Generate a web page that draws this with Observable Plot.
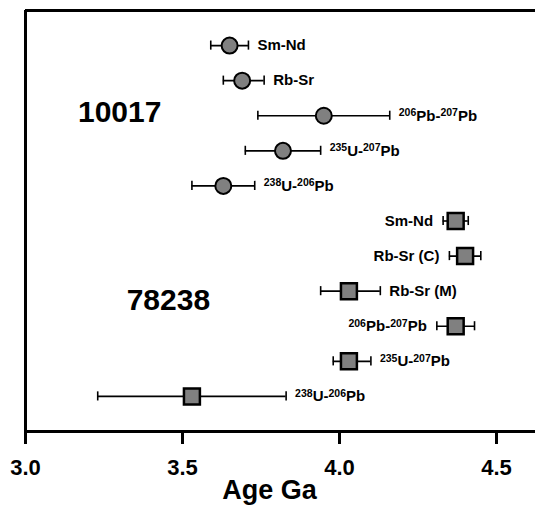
<!DOCTYPE html>
<html><head><meta charset="utf-8">
<script src="https://cdn.jsdelivr.net/npm/d3@7"></script>
<script src="https://cdn.jsdelivr.net/npm/@observablehq/plot@0.6"></script>
<style>body{margin:0;background:#fff}</style>
</head><body><div id="chart"></div>
<script>
// ---- data ----
const methods = ["Sm-Nd","Rb-Sr","206Pb-207Pb","235U-207Pb","238U-206Pb",
                 "Sm-Nd","Rb-Sr (C)","Rb-Sr (M)","206Pb-207Pb","235U-207Pb","238U-206Pb"];
const samples = ["10017","10017","10017","10017","10017",
                 "78238","78238","78238","78238","78238","78238"];
const ages  = [3.65, 3.69, 3.95, 3.82, 3.63, 4.37, 4.40, 4.03, 4.37, 4.03, 3.53];
const lows  = [3.59, 3.63, 3.74, 3.70, 3.53, 4.33, 4.35, 3.94, 4.31, 3.98, 3.23];
const highs = [3.71, 3.76, 4.16, 3.94, 3.73, 4.41, 4.45, 4.13, 4.43, 4.10, 3.83];
const groupNames = ["10017", "78238"];
const groupAges  = [3.30, 3.455];
const groupRows  = [2.91, 8.26];
const xTicks = [3.0, 3.5, 4.0, 4.5];
const axisTitle = "Age Ga";

const rows = methods.map((m, i) => ({method: m, sample: samples[i], age: ages[i], lo: lows[i], hi: highs[i], row: i + 1}));
const groups = groupNames.map((g, i) => ({name: g, age: groupAges[i], row: groupRows[i]}));
const labelsLeft = rows.filter(d => d.hi > 4.3);
const labelsRight = rows.filter(d => d.hi <= 4.3);
const capH = 0.13;
const W = 535, H = 514, mL = 25, mT = 10, mB = 83;
const xMax = 3 + (W - mL) / 314;

const font = "Arial, 'Liberation Sans', sans-serif";
const chart = Plot.plot({
  width: W, height: H,
  marginLeft: mL, marginRight: 0, marginTop: mT, marginBottom: mB,
  style: {fontFamily: font, fontWeight: "bold", color: "#000", background: "#fff"},
  x: {domain: [3, xMax], ticks: xTicks, tickFormat: d3.format(".1f")},
  y: {domain: [0, 12], reverse: true, axis: null},
  marks: [
    Plot.axisX({ticks: xTicks, tickFormat: d3.format(".1f"), tickSize: 13, tickPadding: 15,
      fontSize: 22, fontWeight: "bold", strokeWidth: 3, label: null, stroke: "#000", fill: "#000"}),
    Plot.ruleX([3], {stroke: "#000", strokeWidth: 3}),
    Plot.ruleY([0, 12], {stroke: "#000", strokeWidth: 3}),
    Plot.ruleY(rows, {y: "row", x1: "lo", x2: "hi", stroke: "#000", strokeWidth: 1.6}),
    Plot.ruleX(rows, {x: "lo", y1: d => d.row - capH, y2: d => d.row + capH, stroke: "#000", strokeWidth: 1.6}),
    Plot.ruleX(rows, {x: "hi", y1: d => d.row - capH, y2: d => d.row + capH, stroke: "#000", strokeWidth: 1.6}),
    Plot.dot(rows.filter(d => d.sample === "10017"), {x: "age", y: "row", r: 8, symbol: "circle",
      fill: "#808080", stroke: "#000", strokeWidth: 2}),
    Plot.dot(rows.filter(d => d.sample === "78238"), {x: "age", y: "row", r: 9, symbol: "square",
      fill: "#808080", stroke: "#000", strokeWidth: 2.5}),
    Plot.text(labelsRight, {x: "hi", y: "row", text: "method", textAnchor: "start", dx: 9,
      fontSize: 15, fontWeight: "bold", fill: "#000", className: "method-label"}),
    Plot.text(labelsLeft, {x: "lo", y: "row", text: "method", textAnchor: "end", dx: -10,
      fontSize: 15, fontWeight: "bold", fill: "#000", className: "method-label"}),
    Plot.text(groups, {x: "age", y: "row", text: "name", fontSize: 30, fontWeight: "bold", fill: "#000"}),
    Plot.text([axisTitle], {frameAnchor: "bottom", text: d => d, dy: 67, dx: -11,
      fontSize: 27, fontWeight: "bold", fill: "#000"})
  ]
});

// superscript isotope mass numbers
chart.querySelectorAll(".method-label text").forEach(t => {
  const s = t.textContent;
  if (!/\d/.test(s)) return;
  t.textContent = "";
  const parts = s.split(/(\d+)/).filter(p => p.length);
  let raised = false;
  parts.forEach(p => {
    const ts = document.createElementNS("http://www.w3.org/2000/svg", "tspan");
    ts.textContent = p;
    if (/^\d+$/.test(p)) {
      ts.setAttribute("font-size", "10.5");
      if (!raised) { ts.setAttribute("dy", "-4.5"); raised = true; }
    } else if (raised) {
      ts.setAttribute("dy", "4.5"); raised = false;
    }
    t.appendChild(ts);
  });
});
document.getElementById("chart").appendChild(chart);
</script>
</body></html>
